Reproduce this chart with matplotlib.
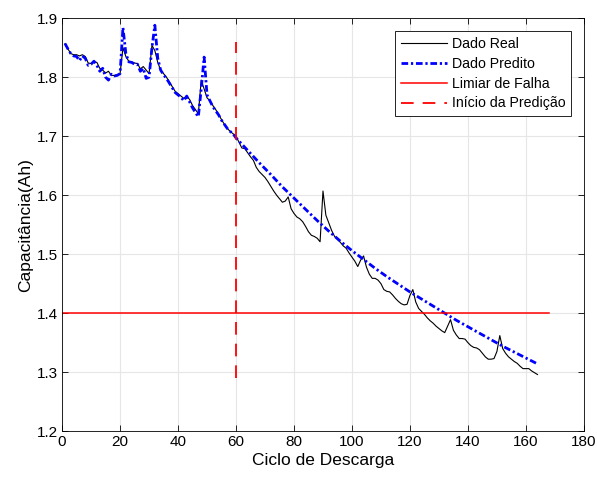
import matplotlib
matplotlib.use("Agg")
import matplotlib.pyplot as plt
import numpy as np

plt.rcParams['font.family'] = ['Liberation Sans', 'DejaVu Sans']

real_values = [
    1.857, 1.848, 1.840, 1.838, 1.838, 1.836, 1.838, 1.835, 1.824, 1.823,
    1.826, 1.825, 1.815, 1.812, 1.807, 1.810, 1.803, 1.803, 1.804, 1.806,
    1.850, 1.835, 1.827, 1.826, 1.824, 1.823, 1.814, 1.818, 1.812, 1.806,
    1.854, 1.845, 1.825, 1.812, 1.806, 1.800, 1.792, 1.784, 1.776, 1.772,
    1.768, 1.764, 1.768, 1.762, 1.752, 1.745, 1.738, 1.795, 1.780, 1.765,
    1.760, 1.752, 1.745, 1.737, 1.728, 1.720, 1.713, 1.708, 1.704, 1.700,
    1.690, 1.680, 1.679, 1.672, 1.665, 1.659, 1.647, 1.640, 1.635, 1.630,
    1.623, 1.615, 1.607, 1.600, 1.594, 1.588, 1.590, 1.597, 1.577, 1.569,
    1.563, 1.560, 1.555, 1.547, 1.538, 1.532, 1.530, 1.527, 1.521, 1.607,
    1.566, 1.553, 1.540, 1.530, 1.525, 1.520, 1.514, 1.510, 1.502, 1.495,
    1.488, 1.479, 1.490, 1.497, 1.478, 1.466, 1.459, 1.459, 1.456, 1.450,
    1.440, 1.437, 1.436, 1.431, 1.425, 1.420, 1.416, 1.414, 1.415, 1.430,
    1.440, 1.419, 1.408, 1.403, 1.398, 1.392, 1.387, 1.383, 1.378, 1.374,
    1.370, 1.367, 1.378, 1.389, 1.371, 1.363, 1.357, 1.357, 1.356, 1.350,
    1.345, 1.342, 1.341, 1.338, 1.332, 1.326, 1.322, 1.322, 1.323, 1.335,
    1.362, 1.340, 1.332, 1.326, 1.322, 1.318, 1.315, 1.310, 1.306, 1.306,
    1.306, 1.302, 1.299, 1.296,
]
real_cycles = list(range(1, len(real_values) + 1))

pred_cycles = list(range(1, 61)) + list(range(64, 165, 4))
pred_values = [
    1.857, 1.848, 1.840, 1.836, 1.835, 1.828, 1.836, 1.832, 1.820, 1.822,
    1.827, 1.820, 1.810, 1.815, 1.800, 1.795, 1.805, 1.802, 1.803, 1.806,
    1.884, 1.840, 1.826, 1.825, 1.822, 1.822, 1.810, 1.815, 1.798, 1.800,
    1.850, 1.888, 1.832, 1.812, 1.804, 1.798, 1.790, 1.782, 1.774, 1.770,
    1.766, 1.760, 1.768, 1.758, 1.748, 1.740, 1.733, 1.780, 1.834, 1.770,
    1.760, 1.750, 1.743, 1.736, 1.727, 1.720, 1.713, 1.708, 1.704, 1.697,
    1.676, 1.655, 1.635, 1.614, 1.595, 1.576, 1.557, 1.539, 1.522, 1.506,
    1.491, 1.476, 1.462, 1.449, 1.436, 1.424, 1.412, 1.400, 1.388, 1.377,
    1.366, 1.355, 1.344, 1.334, 1.324, 1.314,
]

threshold_x = [0, 168]
threshold_value = 1.4
pred_start = 60
pred_start_span = [1.29, 1.86]

fig = plt.figure(figsize=(5.97, 4.78), dpi=100)
ax = fig.add_axes([0.104, 0.098, 0.874, 0.864])

ax.plot(real_cycles, real_values, color='black', lw=0.8, label='Dado Real')
ax.plot(pred_cycles, pred_values, color='blue', lw=2.0, ls=(0, (2.4, 1.0, 0.8, 1.0)),
        label='Dado Predito')
ax.plot(threshold_x, [threshold_value, threshold_value], color='red', lw=1.1,
        label='Limiar de Falha')
ax.plot([pred_start, pred_start], pred_start_span, color='red', lw=1.3,
        ls=(0, (7, 5)), label='Início da Predição')

ax.set_xlim(0, 180)
ax.set_ylim(1.2, 1.9)
ax.set_xticks(np.arange(0, 181, 20))
yt = np.round(np.arange(1.2, 1.91, 0.1), 1)
ax.set_yticks(yt)
ax.set_yticklabels([f'{v:.1f}' for v in yt])
ax.grid(True, color='#e6e6e6', lw=0.8)
ax.set_axisbelow(True)
ax.tick_params(direction='in', top=True, right=True, labelsize=11, length=4,
               width=0.6, pad=3)
for s in ax.spines.values():
    s.set_linewidth(0.6)
ax.set_xlabel('Ciclo de Descarga', fontsize=12.5, labelpad=3)
ax.set_ylabel('Capacitância(Ah)', fontsize=12.5, labelpad=3)

leg = ax.legend(loc='upper right', fontsize=10.2, fancybox=False, edgecolor='black',
                framealpha=1, handlelength=3.3, borderpad=0.4, labelspacing=0.42,
                handletextpad=0.3, borderaxespad=0,
                bbox_to_anchor=(0.975, 0.969))
leg.get_frame().set_linewidth(0.6)

fig.savefig('out.png', dpi=100)
